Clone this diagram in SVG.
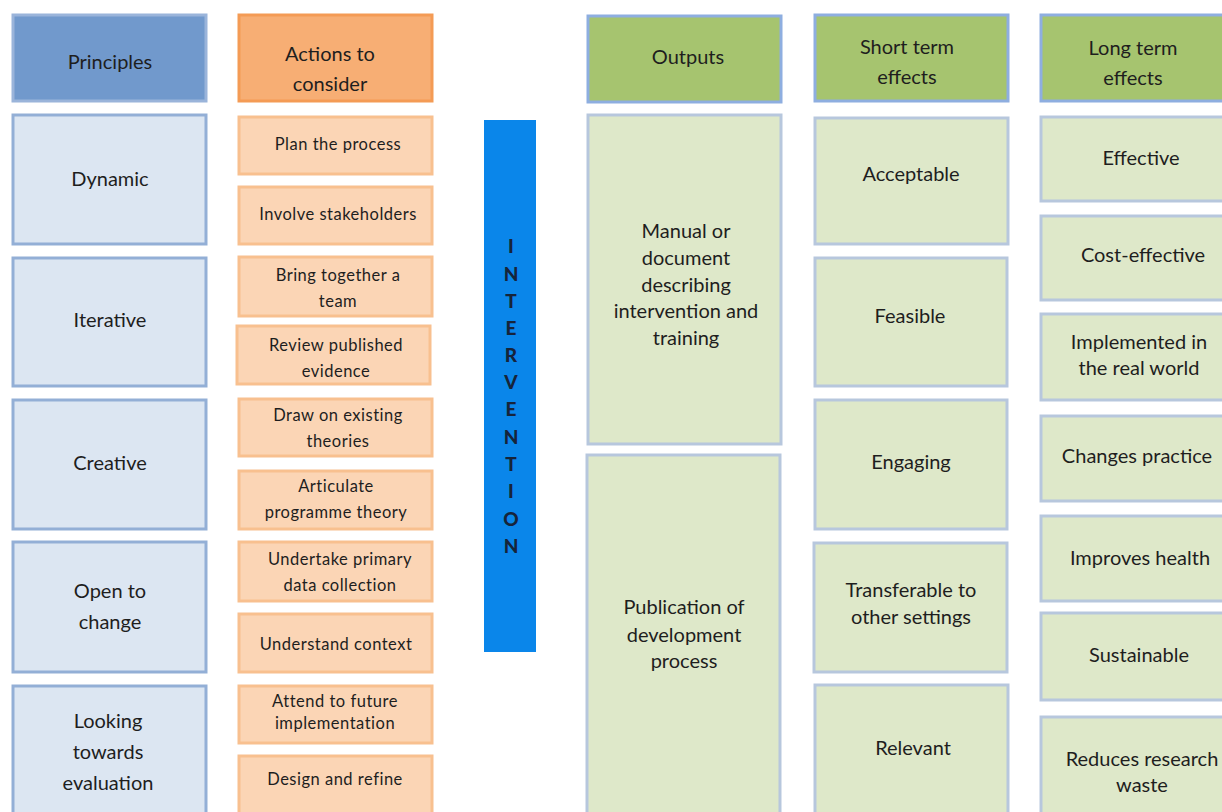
<svg xmlns="http://www.w3.org/2000/svg" width="1222" height="812" viewBox="0 0 1222 812">
<style>
text{font-family:Lato,"Open Sans","Liberation Sans",sans-serif;fill:#1e1e1e;text-anchor:middle}
.ph{fill:#7199cc;stroke:#9ab4da;stroke-width:3}
.pb{fill:#dce6f2;stroke:#93afd6;stroke-width:3}
.ah{fill:#f7ae74;stroke:#f49b55;stroke-width:3}
.ab{fill:#fbd5b5;stroke:#f8c08f;stroke-width:3}
.gh{fill:#a6c46f;stroke:#8eaee0;stroke-width:3}
.gb{fill:#dee8c9;stroke:#b7c7dd;stroke-width:3}
.t20{font-size:20px}
.t16{font-size:16.5px;letter-spacing:0.5px}
.iv{font-size:19px;font-weight:900;fill:#16243a}
</style>
<rect width="1222" height="812" fill="#ffffff"/>
<g id="principles-header"><rect class="ph" x="13" y="15" width="193" height="86"/><text class="t20" x="110" y="69">Principles</text></g>
<g id="p-dynamic"><rect class="pb" x="13" y="115" width="193" height="129"/><text class="t20" x="110" y="186">Dynamic</text></g>
<g id="p-iterative"><rect class="pb" x="13" y="258" width="193" height="128"/><text class="t20" x="110" y="327">Iterative</text></g>
<g id="p-creative"><rect class="pb" x="13" y="400" width="193" height="129"/><text class="t20" x="110" y="470">Creative</text></g>
<g id="p-open"><rect class="pb" x="13" y="542" width="193" height="130"/><text class="t20" x="110" y="598">Open to</text><text class="t20" x="110" y="629">change</text></g>
<g id="p-looking"><rect class="pb" x="13" y="686" width="193" height="140"/><text class="t20" x="108" y="728">Looking</text><text class="t20" x="108" y="759">towards</text><text class="t20" x="108" y="790">evaluation</text></g>

<g id="actions-header"><rect class="ah" x="239" y="15" width="193" height="86"/><text class="t20" x="330" y="61">Actions to</text><text class="t20" x="330" y="91">consider</text></g>
<g id="a-plan"><rect class="ab" x="239" y="117" width="193" height="57"/><text class="t16" x="338" y="150">Plan the process</text></g>
<g id="a-involve"><rect class="ab" x="239" y="187" width="193" height="57"/><text class="t16" x="338" y="220">Involve stakeholders</text></g>
<g id="a-team"><rect class="ab" x="239" y="257" width="193" height="59"/><text class="t16" x="338" y="281">Bring together a</text><text class="t16" x="338" y="307">team</text></g>
<g id="a-review"><rect class="ab" x="237" y="326" width="193" height="58"/><text class="t16" x="336" y="351">Review published</text><text class="t16" x="336" y="377">evidence</text></g>
<g id="a-draw"><rect class="ab" x="239" y="399" width="193" height="57"/><text class="t16" x="338" y="421">Draw on existing</text><text class="t16" x="338" y="447">theories</text></g>
<g id="a-articulate"><rect class="ab" x="239" y="471" width="193" height="58"/><text class="t16" x="336" y="492">Articulate</text><text class="t16" x="336" y="518">programme theory</text></g>
<g id="a-undertake"><rect class="ab" x="239" y="542" width="193" height="59"/><text class="t16" x="340" y="565">Undertake primary</text><text class="t16" x="340" y="591">data collection</text></g>
<g id="a-context"><rect class="ab" x="239" y="614" width="193" height="58"/><text class="t16" x="336" y="650">Understand context</text></g>
<g id="a-attend"><rect class="ab" x="239" y="686" width="193" height="57"/><text class="t16" x="335" y="707">Attend to future</text><text class="t16" x="335" y="729">implementation</text></g>
<g id="a-design"><rect class="ab" x="239" y="756" width="193" height="70"/><text class="t16" x="335" y="785">Design and refine</text></g>

<g id="intervention"><rect x="484" y="120" width="52" height="532" fill="#0a86ea"/>
<text class="iv" x="511" y="253">I</text><text class="iv" x="511" y="281">N</text><text class="iv" x="511" y="308">T</text><text class="iv" x="511" y="335">E</text><text class="iv" x="511" y="362">R</text><text class="iv" x="511" y="389">V</text><text class="iv" x="511" y="416">E</text><text class="iv" x="511" y="444">N</text><text class="iv" x="511" y="471">T</text><text class="iv" x="511" y="498">I</text><text class="iv" x="511" y="526">O</text><text class="iv" x="511" y="553">N</text></g>

<g id="outputs-header"><rect class="gh" x="588" y="16" width="193" height="86"/><text class="t20" x="688" y="64">Outputs</text></g>
<g id="o-manual"><rect class="gb" x="588" y="115" width="193" height="329"/><text class="t20" x="686" y="238">Manual or</text><text class="t20" x="686" y="265">document</text><text class="t20" x="686" y="292">describing</text><text class="t20" x="686" y="318">intervention and</text><text class="t20" x="686" y="345">training</text></g>
<g id="o-publication"><rect class="gb" x="587" y="455" width="193" height="370"/><text class="t20" x="684" y="614">Publication of</text><text class="t20" x="684" y="642">development</text><text class="t20" x="684" y="668">process</text></g>

<g id="short-header"><rect class="gh" x="815" y="15" width="193" height="86"/><text class="t20" x="907" y="54">Short term</text><text class="t20" x="907" y="84">effects</text></g>
<g id="s-acceptable"><rect class="gb" x="815" y="118" width="193" height="126"/><text class="t20" x="911" y="181">Acceptable</text></g>
<g id="s-feasible"><rect class="gb" x="815" y="258" width="192" height="128"/><text class="t20" x="910" y="323">Feasible</text></g>
<g id="s-engaging"><rect class="gb" x="815" y="400" width="192" height="129"/><text class="t20" x="911" y="469">Engaging</text></g>
<g id="s-transferable"><rect class="gb" x="814" y="543" width="193" height="129"/><text class="t20" x="911" y="597">Transferable to</text><text class="t20" x="911" y="624">other settings</text></g>
<g id="s-relevant"><rect class="gb" x="815" y="685" width="193" height="140"/><text class="t20" x="913" y="755">Relevant</text></g>

<g id="long-header"><rect class="gh" x="1041" y="15" width="200" height="86"/><text class="t20" x="1133" y="55">Long term</text><text class="t20" x="1133" y="85">effects</text></g>
<g id="l-effective"><rect class="gb" x="1041" y="117" width="200" height="84"/><text class="t20" x="1141" y="165">Effective</text></g>
<g id="l-cost"><rect class="gb" x="1041" y="216" width="200" height="84"/><text class="t20" x="1143" y="262">Cost-effective</text></g>
<g id="l-implemented"><rect class="gb" x="1041" y="314" width="200" height="86"/><text class="t20" x="1139" y="349">Implemented in</text><text class="t20" x="1139" y="375">the real world</text></g>
<g id="l-changes"><rect class="gb" x="1041" y="416" width="200" height="85"/><text class="t20" x="1137" y="463">Changes practice</text></g>
<g id="l-improves"><rect class="gb" x="1041" y="516" width="200" height="85"/><text class="t20" x="1140" y="565">Improves health</text></g>
<g id="l-sustainable"><rect class="gb" x="1041" y="613" width="200" height="87"/><text class="t20" x="1139" y="662">Sustainable</text></g>
<g id="l-reduces"><rect class="gb" x="1041" y="717" width="200" height="110"/><text class="t20" x="1142" y="766">Reduces research</text><text class="t20" x="1142" y="792">waste</text></g>
<g id="connectors"></g>
</svg>
